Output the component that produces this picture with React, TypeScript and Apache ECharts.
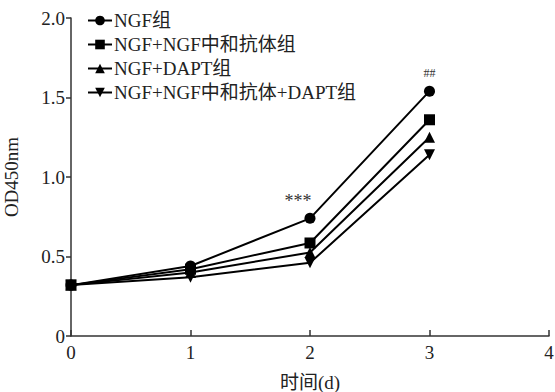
import React, { useEffect, useRef } from "react";
import * as echarts from "echarts";

const days = [0, 1, 2, 3];
const seriesNames = ["NGF组", "NGF+NGF中和抗体组", "NGF+DAPT组", "NGF+NGF中和抗体+DAPT组"];
const ngf = [0.32, 0.44, 0.74, 1.54];
const ngfAb = [0.32, 0.42, 0.585, 1.36];
const ngfDapt = [0.32, 0.40, 0.525, 1.25];
const ngfAbDapt = [0.32, 0.37, 0.46, 1.14];
const yTicks = [0, 0.5, 1.0, 1.5, 2.0];
const xTicks = [0, 1, 2, 3, 4];
const annotations: Record<number, string> = { 2: "***", 3: "##" };

const FONT = "'Liberation Serif', 'Noto Sans CJK SC', serif";

export default function App() {
  const ref = useRef<HTMLDivElement>(null);
  useEffect(() => {
    const chart = echarts.init(ref.current!, null, { renderer: "svg" });
    const symbols = [
      "circle",
      "rect",
      "triangle",
      "path://M0,0 L10,0 L5,10 Z",
    ];
    const all = [ngf, ngfAb, ngfDapt, ngfAbDapt];
    chart.setOption({
      animation: false,
      backgroundColor: "#fff",
      textStyle: { fontFamily: FONT },
      grid: { left: 71, right: 6, top: 18, bottom: 56, containLabel: false, outerBoundsMode: "none" },
      legend: {
        orient: "vertical",
        left: 82,
        top: 6,
        itemGap: 5,
        itemWidth: 24,
        itemHeight: 12,
        data: seriesNames,
        textStyle: { fontFamily: FONT, fontSize: 19, color: "#222", padding: [0, 0, 0, -3] },
      },
      xAxis: {
        type: "value",
        min: xTicks[0],
        max: xTicks[xTicks.length - 1],
        interval: 1,
        name: "时间(d)",
        nameLocation: "middle",
        nameGap: 37,
        nameTextStyle: { fontFamily: FONT, fontSize: 19, color: "#222" },
        axisLine: { lineStyle: { color: "#333", width: 1.5 } },
        axisTick: { inside: true, length: 6, lineStyle: { color: "#333", width: 1.5 } },
        axisLabel: { fontFamily: FONT, fontSize: 19, color: "#222", margin: 7 },
        splitLine: { show: false },
      },
      yAxis: {
        type: "value",
        min: yTicks[0],
        max: yTicks[yTicks.length - 1],
        interval: 0.5,
        name: "OD450nm",
        nameLocation: "middle",
        nameGap: 50,
        nameRotate: 90,
        nameTextStyle: { fontFamily: FONT, fontSize: 19, color: "#222" },
        axisLine: { show: true, lineStyle: { color: "#333", width: 1.5 } },
        axisTick: { show: true, length: 5, lineStyle: { color: "#333", width: 1.5 } },
        axisLabel: {
          fontFamily: FONT,
          fontSize: 19,
          color: "#222",
          margin: 6,
          formatter: (v: number) => (v === 0 ? "0" : v.toFixed(1)),
        },
        splitLine: { show: false },
      },
      series: all.map((vals, si) => ({
        name: seriesNames[si],
        type: "line",
        symbol: symbols[si],
        symbolSize: 11,
        z: 10 - si,
        itemStyle: { color: "#000" },
        lineStyle: { color: "#000", width: 2 },
        data: vals.map((v, i) => {
          const item: any = { value: [days[i], v] };
          if (si === 0 && annotations[i]) {
            item.label = {
              show: true,
              position: "top",
              formatter: annotations[i],
              fontFamily: FONT,
              fontSize: i === 2 ? 18 : 12,
              color: "#333",
              offset: i === 2 ? [-12, 2] : [0, -2],
            };
          }
          return item;
        }),
      })),
    });
    return () => chart.dispose();
  }, []);
  return <div ref={ref} style={{ width: 555, height: 392, position: "absolute", left: 0, top: 0 }} />;
}
